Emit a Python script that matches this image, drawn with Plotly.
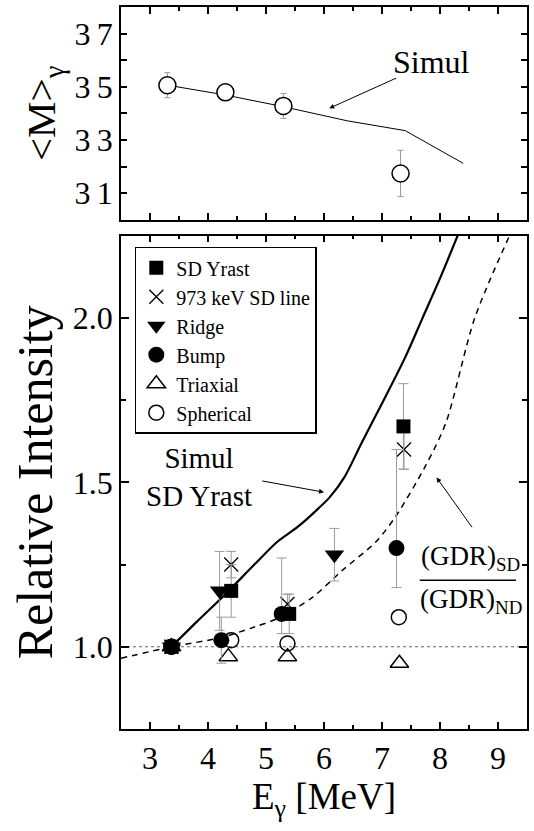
import plotly.graph_objects as go

# ---------------- data (top panel: average multiplicity) ----------------
M_E = [3.30, 4.30, 5.30, 7.32]
M_VAL = [35.06, 34.79, 34.28, 31.74]
M_ERR = [0.47, 0.30, 0.47, 0.87]
SIM_M_E = [3.30, 4.30, 5.30, 6.40, 7.40, 8.40]
SIM_M_VAL = [35.06, 34.69, 34.25, 33.72, 33.35, 32.12]

# ---------------- data (bottom panel: relative intensity) ----------------
SDY_E = [3.37, 4.40, 5.40, 7.37]
SDY_I = [1.00, 1.17, 1.10, 1.67]
SDY_ERR = [0.0, 0.08, 0.06, 0.13]

L973_E = [3.37, 4.40, 5.37, 7.38]
L973_I = [1.00, 1.25, 1.13, 1.60]
L973_ERR = [0.0, 0.04, 0.03, 0.06]

RIDGE_E = [3.37, 4.20, 6.18]
RIDGE_I = [1.00, 1.17, 1.28]
RIDGE_ERR = [0.0, 0.12, 0.08]

BUMP_E = [3.37, 4.23, 5.27, 7.25]
BUMP_I = [1.00, 1.02, 1.10, 1.30]
BUMP_ERR_UP = [0.0, 0.07, 0.17, 0.30]
BUMP_ERR_DN = [0.0, 0.07, 0.06, 0.12]

TRI_E = [3.37, 4.35, 5.37, 7.30]
TRI_I = [1.00, 0.97, 0.97, 0.95]

SPH_E = [3.37, 4.40, 5.37, 7.29]
SPH_I = [1.00, 1.02, 1.01, 1.09]

SIM_SD_E = [3.37, 3.80, 4.30, 4.80, 5.20, 5.55, 5.90, 6.10, 6.35, 6.65, 7.00, 7.40, 7.70, 8.00, 8.35]
SIM_SD_I = [1.00, 1.075, 1.16, 1.25, 1.32, 1.365, 1.42, 1.455, 1.515, 1.62, 1.74, 1.88, 2.00, 2.12, 2.27]

GDR_E = [2.50, 3.37, 4.20, 4.80, 5.20, 5.80, 6.30, 6.90, 7.25, 7.75, 8.10, 8.60, 9.25]
GDR_I = [0.965, 1.00, 1.027, 1.06, 1.086, 1.15, 1.23, 1.32, 1.40, 1.55, 1.68, 2.00, 2.27]

REF_LEVEL = 1.0

X_TICKS = [3, 4, 5, 6, 7, 8, 9]
Y_TICKS = [1.0, 1.5, 2.0]
Y_TICKTEXT = ["1.0", "1.5", "2.0"]
M_TICKS = [31, 33, 35, 37]
M_TICKTEXT = ["3\u20091", "3\u20093", "3\u20095", "3\u20097"]

FONT = "Liberation Serif"
ERR_COLOR = "#9a9a9a"

fig = go.Figure()

# top panel
fig.add_trace(go.Scatter(x=SIM_M_E, y=SIM_M_VAL, mode="lines", xaxis="x2", yaxis="y2",
                         line=dict(color="black", width=1), showlegend=False))
fig.add_trace(go.Scatter(x=M_E, y=M_VAL, mode="markers", xaxis="x2", yaxis="y2",
                         marker=dict(symbol="circle", size=17, color="white",
                                     line=dict(color="black", width=1.5)),
                         error_y=dict(type="data", array=M_ERR, color=ERR_COLOR, thickness=1, width=3),
                         showlegend=False))

# bottom panel curves
fig.add_trace(go.Scatter(x=SIM_SD_E, y=SIM_SD_I, mode="lines",
                         line=dict(color="black", width=2.2, shape="spline", smoothing=0.8),
                         showlegend=False))
fig.add_trace(go.Scatter(x=GDR_E, y=GDR_I, mode="lines",
                         line=dict(color="black", width=1.5, dash="6px,5px", shape="spline", smoothing=0.8),
                         showlegend=False))

def err(a, am=None):
    d = dict(type="data", array=a, color=ERR_COLOR, thickness=1, width=5, symmetric=am is None)
    if am is not None:
        d["arrayminus"] = am
    return d

fig.add_trace(go.Scatter(x=TRI_E, y=TRI_I, mode="markers", name="Triaxial", legendrank=5,
                         marker=dict(symbol="triangle-up-open", size=16, color="black", line=dict(width=1.5))))
fig.add_trace(go.Scatter(x=SPH_E, y=SPH_I, mode="markers", name="Spherical", legendrank=6,
                         marker=dict(symbol="circle-open", size=15, color="black", line=dict(width=1.5))))
fig.add_trace(go.Scatter(x=L973_E, y=L973_I, mode="markers", name="973 keV SD line", legendrank=2,
                         error_y=err(L973_ERR),
                         marker=dict(symbol="x-thin-open", size=14, color="black", line=dict(width=1.3, color="black"))))
fig.add_trace(go.Scatter(x=BUMP_E, y=BUMP_I, mode="markers", name="Bump", legendrank=4,
                         error_y=err(BUMP_ERR_UP, BUMP_ERR_DN),
                         marker=dict(symbol="circle", size=16, color="black")))
fig.add_trace(go.Scatter(x=RIDGE_E, y=RIDGE_I, mode="markers", name="Ridge", legendrank=3,
                         error_y=err(RIDGE_ERR),
                         marker=dict(symbol="triangle-down", size=17, color="black")))
fig.add_trace(go.Scatter(x=SDY_E, y=SDY_I, mode="markers", name="SD Yrast", legendrank=1,
                         error_y=err(SDY_ERR),
                         marker=dict(symbol="square", size=14, color="black")))

# horizontal reference level
fig.add_shape(type="line", xref="x domain", yref="y", x0=0, x1=1, y0=REF_LEVEL, y1=REF_LEVEL,
              line=dict(color="#666666", width=1, dash="dot"), layer="below")

# fraction bar of the GDR label
fig.add_shape(type="line", xref="x", yref="y", x0=7.65, x1=9.31, y0=1.202, y1=1.202,
              line=dict(color="black", width=1.5))

axis_common = dict(showline=True, linecolor="black", linewidth=1.5, mirror="allticks",
                   ticks="inside", tickwidth=1.5, tickcolor="black", showgrid=False, zeroline=False)

fig.update_layout(
    width=534, height=831,
    margin=dict(l=121, r=5, t=6, b=102),
    paper_bgcolor="white", plot_bgcolor="white",
    font=dict(family=FONT, color="black"),
    xaxis=dict(domain=[0, 1], anchor="y", range=[2.5, 9.5], tickvals=X_TICKS, ticklen=7,
               tickfont=dict(size=32),
               minor=dict(dtick=0.5, tick0=2.5, ticklen=4, ticks="inside", tickwidth=1.5, tickcolor="black"),
               title=dict(text="E<sub>γ</sub> [MeV]", font=dict(size=37), standoff=8),
               **axis_common),
    xaxis2=dict(domain=[0, 1], anchor="y2", matches="x", range=[2.5, 9.5], tickvals=X_TICKS, ticklen=7,
                showticklabels=False,
                minor=dict(dtick=0.5, tick0=2.5, ticklen=4, ticks="inside", tickwidth=1.5, tickcolor="black"),
                **axis_common),
    yaxis=dict(domain=[0, 0.6833], anchor="x", range=[0.75, 2.25], tickvals=Y_TICKS, ticktext=Y_TICKTEXT,
               ticklen=8, tickfont=dict(size=32),
               minor=dict(dtick=0.25, tick0=0.75, ticklen=5, ticks="inside", tickwidth=1.5, tickcolor="black"),
               title=dict(text="Relative Intensity", font=dict(size=50), standoff=4),
               **axis_common),
    yaxis2=dict(domain=[0.7054, 1], anchor="x2", range=[30, 38], tickvals=M_TICKS, ticktext=M_TICKTEXT,
                ticklen=6, tickfont=dict(size=32),
                minor=dict(dtick=1, tick0=30, ticklen=6, ticks="inside", tickwidth=1.5, tickcolor="black"),
                title=dict(text="&lt;M&gt;<sub>γ</sub>", font=dict(size=41), standoff=6),
                **axis_common),
    legend=dict(x=0.034, y=0.668, xanchor="left", yanchor="top", bgcolor="white",
                bordercolor="black", borderwidth=1.5, font=dict(size=20, family=FONT),
                tracegroupgap=0, itemwidth=30),
    annotations=[
        dict(x=7.86, y=35.94, xref="x2", yref="y2", text="Simul", showarrow=False,
             font=dict(size=32)),
        dict(x=6.09, y=34.19, xref="x2", yref="y2", ax=7.27, ay=35.35, axref="x2", ayref="y2",
             text="", showarrow=True, arrowhead=2, arrowsize=1, arrowwidth=1, arrowcolor="black"),
        dict(x=3.85, y=1.515, xref="x", yref="y", text="Simul<br>SD Yrast", showarrow=False,
             font=dict(size=29)),
        dict(x=6.0, y=1.47, xref="x", yref="y", ax=4.91, ay=1.505, axref="x", ayref="y",
             text="", showarrow=True, arrowhead=2, arrowsize=1, arrowwidth=1, arrowcolor="black"),
        dict(x=8.53, y=1.269, xref="x", yref="y", text="(GDR)<sub>SD</sub>", showarrow=False,
             font=dict(size=27)),
        dict(x=8.53, y=1.138, xref="x", yref="y", text="(GDR)<sub>ND</sub>", showarrow=False,
             font=dict(size=27)),
        dict(x=7.94, y=1.515, xref="x", yref="y", ax=8.57, ay=1.359, axref="x", ayref="y",
             text="", showarrow=True, arrowhead=2, arrowsize=1, arrowwidth=1, arrowcolor="black"),
    ],
)

fig.write_html("out.html")
